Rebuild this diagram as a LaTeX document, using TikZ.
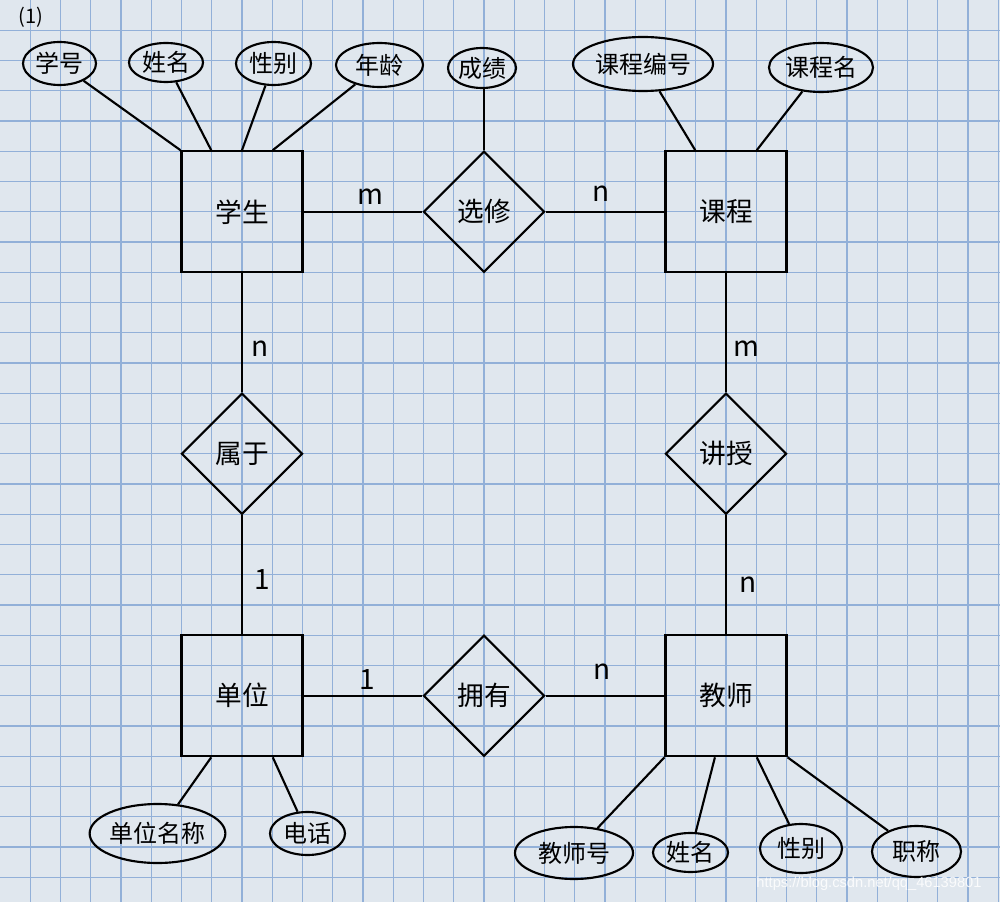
\documentclass[tikz,border=0pt]{standalone}
\usepackage{fontspec}
\setmainfont{Liberation Sans}
\newfontfamily\cjk{Noto Sans CJK SC}
\usetikzlibrary{shapes.geometric,calc}
\definecolor{paper}{RGB}{224,231,238}
\definecolor{gridblue}{RGB}{146,176,216}
\begin{document}
\begin{tikzpicture}[x=0.75pt,y=-0.75pt,
  ent/.style={draw,line width=1.6pt,minimum size=90.75pt,inner sep=0pt,font=\cjk\fontsize{20}{22}\selectfont},
  rel/.style={draw,diamond,line width=1.6pt,minimum width=90.75pt,minimum height=90.75pt,inner sep=0pt,font=\cjk\fontsize{20}{22}\selectfont},
  attr/.style={draw,ellipse,line width=1.6pt,inner sep=0pt,font=\cjk\fontsize{18}{20}\selectfont},
  conn/.style={line width=1.6pt},
  card/.style={font=\cjk\fontsize{21}{23}\selectfont,inner sep=0pt}
]
\fill[paper] (0,0) rectangle (1000,902);
\useasboundingbox (0,0) rectangle (1000,902);
\foreach \i in {1,...,33} \draw[gridblue,line width=1.1pt] (\i*30.25,0) -- (\i*30.25,902);
\foreach \j in {1,...,29} \draw[gridblue,line width=1.1pt] (0,\j*30.25) -- (1000,\j*30.25);

\node[font=\cjk\fontsize{15}{17}\selectfont,inner sep=0pt] (lbl) at (31,17) {(1)};

% entities
\node[ent] (stu) at (242,211.75) {学生};
\node[ent] (cou) at (726,211.75) {课程};
\node[ent] (dep) at (242,695.75) {单位};
\node[ent] (tea) at (726,695.75) {教师};

% relationships
\node[rel] (xx) at (484,211.75) {选修};
\node[rel] (sy) at (242,453.75) {属于};
\node[rel] (js) at (726,453.75) {讲授};
\node[rel] (yy) at (484,695.75) {拥有};

% attributes
\node[attr,minimum width=54.75pt,minimum height=32.25pt] (a1) at (59.5,63.5) {学号};
\node[attr,minimum width=55.5pt,minimum height=29.25pt] (a2) at (166,62.5) {姓名};
\node[attr,minimum width=56.25pt,minimum height=32.25pt] (a3) at (273.5,63.5) {性别};
\node[attr,minimum width=65.25pt,minimum height=33pt] (a4) at (379.5,65) {年龄};
\node[attr,minimum width=51pt,minimum height=30pt] (cj) at (482,68) {成绩};
\node[attr,minimum width=105pt,minimum height=40.5pt] (c1) at (643,64) {课程编号};
\node[attr,minimum width=78pt,minimum height=36.75pt] (c2) at (821,67.5) {课程名};
\node[attr,minimum width=100pt,minimum height=44.25pt] (d1) at (157.5,833.5) {单位名称};
\node[attr,minimum width=56.25pt,minimum height=32.25pt] (d2) at (307.5,833.5) {电话};
\node[attr,minimum width=88.5pt,minimum height=39pt] (t1) at (574,853) {教师号};
\node[attr,minimum width=56.25pt,minimum height=29.25pt] (t2) at (690.5,852.5) {姓名};
\node[attr,minimum width=61.5pt,minimum height=36.75pt] (t3) at (801,848.5) {性别};
\node[attr,minimum width=66.75pt,minimum height=38.25pt] (t4) at (916.5,851.5) {职称};

% anchor points on entity edges
\coordinate (s1) at (stu.north west);
\coordinate (s2) at ($(stu.north west)!0.25!(stu.north east)$);
\coordinate (s3) at ($(stu.north west)!0.5!(stu.north east)$);
\coordinate (s4) at ($(stu.north west)!0.75!(stu.north east)$);
\coordinate (k1) at ($(cou.north west)!0.25!(cou.north east)$);
\coordinate (k2) at ($(cou.north west)!0.75!(cou.north east)$);
\coordinate (u1) at ($(dep.south west)!0.25!(dep.south east)$);
\coordinate (u2) at ($(dep.south west)!0.75!(dep.south east)$);
\coordinate (j1) at (tea.south west);
\coordinate (j2) at ($(tea.south west)!0.41!(tea.south east)$);
\coordinate (j3) at ($(tea.south west)!0.75!(tea.south east)$);
\coordinate (j4) at (tea.south east);
\coordinate (cjb) at (xx.north |- cj.south);

% attribute connectors
\draw[conn] (a1) -- (s1);
\draw[conn] (a2) -- (s2);
\draw[conn] (a3) -- (s3);
\draw[conn] (a4) -- (s4);
\draw[conn] (cjb) -- (xx.north);
\draw[conn] (c1) -- (k1);
\draw[conn] (c2) -- (k2);
\draw[conn] (d1) -- (u1);
\draw[conn] (d2) -- (u2);
\draw[conn] (t1) -- (j1);
\draw[conn] (t2) -- (j2);
\draw[conn] (t3) -- (j3);
\draw[conn] (t4) -- (j4);

% relationship connectors
\draw[conn] (stu) -- (xx);
\draw[conn] (xx) -- (cou);
\draw[conn] (stu) -- (sy);
\draw[conn] (sy) -- (dep);
\draw[conn] (cou) -- (js);
\draw[conn] (js) -- (tea);
\draw[conn] (dep) -- (yy);
\draw[conn] (yy) -- (tea);

% cardinalities
\node[card] (m1) at (370,197) {m};
\node[card] (n1) at (601,194) {n};
\node[card] (n2) at (260,349) {n};
\node[card] (o1) at (262,580) {1};
\node[card] (m2) at (746,349) {m};
\node[card] (n3) at (748,585) {n};
\node[card] (o2) at (367,680) {1};
\node[card] (n4) at (602,672) {n};

% watermark
\node[font=\fontsize{11}{13}\selectfont,text=white,opacity=0.85,inner sep=0pt] (wm) at (869,884) {https://blog.csdn.net/qq\_46139801};
\end{tikzpicture}
\end{document}
